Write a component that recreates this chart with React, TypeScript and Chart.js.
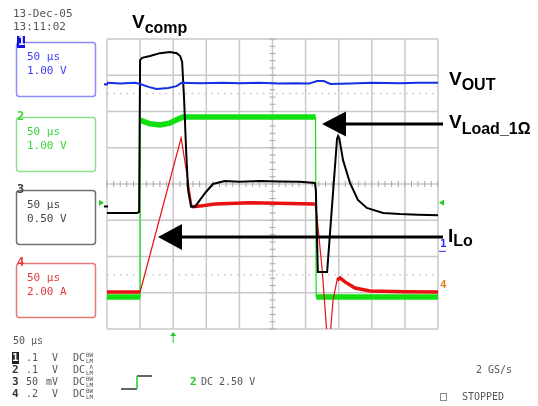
import React, { useEffect, useRef } from "react";
import { Chart, registerables } from "chart.js";

Chart.register(...registerables);

// Screen: 10 horizontal divisions (50 µs/div), 8 vertical divisions (centre = 0)
const timeDivs = [0, 1, 2, 3, 4, 5, 6, 7, 8, 9, 10];
const levelDivs = [-4, -3, -2, -1, 0, 1, 2, 3, 4];
const cursorLevels = [-2.5, 2.5];

// Channel 1 – V_OUT (blue)
const voutT = [0, 0.4, 0.85, 1.0, 1.25, 1.5, 1.85, 2.1, 2.25, 2.8, 3.5, 4.0, 4.6, 5.2, 5.7, 6.1, 6.35, 6.55, 6.75, 7.35, 8.0, 8.85, 9.4, 10];
const voutV = [2.79, 2.77, 2.79, 2.76, 2.68, 2.62, 2.65, 2.7, 2.79, 2.78, 2.79, 2.78, 2.79, 2.77, 2.78, 2.77, 2.84, 2.84, 2.76, 2.77, 2.79, 2.78, 2.79, 2.79];

// Channel 2 – V_Load_1Ω (green)
const vloadT = [0, 0.97, 1.0, 1.0, 1.06, 1.3, 1.6, 1.9, 2.15, 2.3, 3.0, 4.3, 5.5, 6.3, 6.32, 7.0, 8.5, 10];
const vloadV = [-3.12, -3.12, -3.12, 1.77, 1.74, 1.66, 1.63, 1.68, 1.79, 1.85, 1.85, 1.85, 1.85, 1.85, -3.12, -3.12, -3.12, -3.12];

// Channel 3 – V_comp (black)
const vcompT = [0, 0.91, 0.97, 1.0, 1.06, 1.3, 1.6, 1.9, 2.11, 2.21, 2.27, 2.33, 2.39, 2.45, 2.54, 2.66, 2.81, 2.99, 3.2, 3.56, 4.0, 4.62, 5.2, 5.83, 6.28, 6.31, 6.37, 6.65, 6.95, 6.98, 7.02, 7.13, 7.34, 7.58, 7.85, 8.34, 8.85, 9.4, 10];
const vcompV = [-0.8, -0.8, -0.77, 3.42, 3.48, 3.53, 3.61, 3.64, 3.61, 3.53, 3.37, 2.32, 0.94, -0.17, -0.63, -0.63, -0.44, -0.22, 0.0, 0.08, 0.06, 0.08, 0.07, 0.06, 0.03, -0.17, -2.43, -2.43, 1.25, 1.32, 1.25, 0.66, 0.03, -0.44, -0.66, -0.8, -0.83, -0.85, -0.86];

// Channel 4 – I_Lo (red)
const iloT = [0, 0.97, 1.0, 2.24, 2.39, 2.57, 2.81, 3.26, 4.32, 5.5, 6.28, 6.34, 6.5, 6.65, 6.74, 6.83, 6.95, 7.04, 7.19, 7.49, 7.95, 9.0, 10];
const iloV = [-2.98, -2.98, -2.98, 1.27, 0.41, -0.63, -0.61, -0.55, -0.52, -0.54, -0.55, -0.86, -2.37, -4.2, -4.2, -3.2, -2.65, -2.59, -2.7, -2.87, -2.95, -2.97, -2.98];

// Channel boxes
const chanNames = ["1", "2", "3", "4"];
const chanTime = ["50 µs", "50 µs", "50 µs", "50 µs"];
const chanScale = ["1.00 V", "1.00 V", "0.50 V", "2.00 A"];
const chanBorder = ["#8c8cff", "#8ce08c", "#707070", "#e67a7a"];
const chanText = ["#3c3cff", "#3cd23c", "#444444", "#e23c3c"];
const chanBoxTop = [42, 117, 190, 263];

// Bottom status lines
const statusRows = [
  ["1", ".1", "V", "DC"],
  ["2", ".1", "V", "DC"],
  ["3", "50", "mV", "DC"],
  ["4", ".2", "V", "DC"],
];

const pts = (xs: number[], ys: number[]) => xs.map((x, i) => ({ x, y: ys[i] }));

const steepWidth = (thin: number, thick: number) => (c: any) => {
  const dx = Math.abs(c.p1.x - c.p0.x);
  const dy = Math.abs(c.p1.y - c.p0.y);
  return dy > 2 * dx ? thin : thick;
};

function subLabel(ctx: CanvasRenderingContext2D, main: string, sub: string, x: number, y: number, mainSize: number, subSize: number, shift: number) {
  ctx.fillStyle = "#000";
  ctx.textBaseline = "alphabetic";
  ctx.textAlign = "left";
  ctx.font = `bold ${mainSize}px "Liberation Sans", Arial, sans-serif`;
  ctx.fillText(main, x, y);
  const w = ctx.measureText(main).width;
  ctx.font = `bold ${subSize}px "Liberation Sans", Arial, sans-serif`;
  ctx.fillText(sub, x + w, y + shift);
}

function arrowLeft(ctx: CanvasRenderingContext2D, tipX: number, y: number, endX: number, headLen: number, headHalf: number) {
  ctx.fillStyle = "#000";
  ctx.fillRect(tipX + headLen - 2, y - 1.5, endX - tipX - headLen + 2, 3);
  ctx.beginPath();
  ctx.moveTo(tipX, y);
  ctx.lineTo(tipX + headLen, y - headHalf);
  ctx.lineTo(tipX + headLen, y + headHalf);
  ctx.closePath();
  ctx.fill();
}

const scopePlugin = {
  id: "scope",
  beforeDatasetsDraw(chart: any) {
    const { ctx, chartArea: a, scales } = chart;
    const xs = scales.x, ys = scales.y;
    ctx.save();
    ctx.fillStyle = "#fff";
    ctx.strokeStyle = "#c8c8c8";
    ctx.lineWidth = 1.5;
    for (const t of timeDivs) {
      const px = xs.getPixelForValue(t);
      ctx.beginPath();
      ctx.moveTo(px, a.top);
      ctx.lineTo(px, a.bottom);
      ctx.stroke();
    }
    for (const l of levelDivs) {
      const py = ys.getPixelForValue(l);
      ctx.beginPath();
      ctx.moveTo(a.left, py);
      ctx.lineTo(a.right, py);
      ctx.stroke();
    }
    // centre minor ticks
    ctx.lineWidth = 1;
    ctx.strokeStyle = "#a8a8a8";
    const cx = xs.getPixelForValue(5), cy = ys.getPixelForValue(0);
    for (let i = -20; i <= 20; i++) {
      const py = ys.getPixelForValue(i * 0.2);
      ctx.beginPath();
      ctx.moveTo(cx - 3, py);
      ctx.lineTo(cx + 3, py);
      ctx.stroke();
    }
    for (let i = 0; i <= 50; i++) {
      const px = xs.getPixelForValue(i * 0.2);
      ctx.beginPath();
      ctx.moveTo(px, cy - 3);
      ctx.lineTo(px, cy + 3);
      ctx.stroke();
    }
    // dotted cursor lines
    ctx.strokeStyle = "#c4c4c4";
    ctx.setLineDash([1.5, 5]);
    ctx.lineWidth = 1.5;
    for (const l of cursorLevels) {
      const py = ys.getPixelForValue(l);
      ctx.beginPath();
      ctx.moveTo(a.left, py);
      ctx.lineTo(a.right, py);
      ctx.stroke();
    }
    ctx.restore();
  },
  afterDraw(chart: any) {
    const { ctx, chartArea: a, scales } = chart;
    const ys = scales.y, xs = scales.x;
    ctx.save();
    const mono = '"DejaVu Sans Mono", monospace';

    // date / time
    ctx.fillStyle = "#555";
    ctx.font = `11px ${mono}`;
    ctx.textBaseline = "middle";
    ctx.textAlign = "left";
    ctx.fillText("13-Dec-05", 13, 14);
    ctx.fillText("13:11:02", 13, 27);

    // channel boxes
    for (let i = 0; i < 4; i++) {
      const top = chanBoxTop[i];
      ctx.strokeStyle = chanBorder[i];
      ctx.lineWidth = 1.5;
      ctx.beginPath();
      (ctx as any).roundRect(16.5, top + 0.5, 79, 54, 3);
      ctx.stroke();
      ctx.fillStyle = chanText[i];
      ctx.font = `11px ${mono}`;
      ctx.fillText(chanTime[i], 27, top + 15);
      ctx.fillText(chanScale[i], 27, top + 29);
      ctx.font = `bold 12px ${mono}`;
      if (i === 0) {
        ctx.fillStyle = "#1010e0";
        ctx.fillRect(17, top - 6, 8, 12);
        ctx.fillStyle = "#fff";
        ctx.fillText(chanNames[i], 18, top);
      } else {
        ctx.fillStyle = chanText[i];
        ctx.fillText(chanNames[i], 17, top);
      }
    }

    // left-edge channel markers
    ctx.fillStyle = "#1a1aff";
    ctx.fillRect(a.left - 3, ys.getPixelForValue(2.75) - 1, 4, 2);
    ctx.fillStyle = "#22cc22";
    ctx.beginPath();
    const gy = ys.getPixelForValue(-0.52);
    ctx.moveTo(a.left - 8, gy - 3);
    ctx.lineTo(a.left - 3, gy);
    ctx.lineTo(a.left - 8, gy + 3);
    ctx.fill();
    ctx.beginPath();
    ctx.moveTo(a.right + 6, gy - 3);
    ctx.lineTo(a.right + 1, gy);
    ctx.lineTo(a.right + 6, gy + 3);
    ctx.fill();
    ctx.fillStyle = "#000";
    ctx.fillRect(a.left - 3, ys.getPixelForValue(-0.62) - 1, 4, 2);

    // right-edge markers
    ctx.font = `bold 11px ${mono}`;
    ctx.fillStyle = "#2a2aff";
    ctx.fillText("1", a.right + 2, ys.getPixelForValue(-1.65));
    ctx.fillRect(a.right + 1, ys.getPixelForValue(-1.65) + 7, 7, 1);
    ctx.fillStyle = "#e0801a";
    ctx.fillText("4", a.right + 2, ys.getPixelForValue(-2.8));

    // trigger marker
    const tx = xs.getPixelForValue(2);
    ctx.strokeStyle = "#22cc22";
    ctx.fillStyle = "#22cc22";
    ctx.lineWidth = 1;
    ctx.beginPath();
    ctx.moveTo(tx, a.bottom + 4);
    ctx.lineTo(tx, a.bottom + 14);
    ctx.stroke();
    ctx.beginPath();
    ctx.moveTo(tx - 3, a.bottom + 7);
    ctx.lineTo(tx, a.bottom + 3);
    ctx.lineTo(tx + 3, a.bottom + 7);
    ctx.fill();

    // bottom status text
    ctx.fillStyle = "#555";
    ctx.font = `10px ${mono}`;
    ctx.fillText("50 µs", 13, 341);
    const rowY = [358, 370, 382, 394];
    statusRows.forEach((r, i) => {
      const y = rowY[i];
      ctx.font = `bold 11px ${mono}`;
      if (i === 0) {
        ctx.fillStyle = "#222";
        ctx.fillRect(12, y - 6, 7, 12);
        ctx.fillStyle = "#fff";
        ctx.fillText(r[0], 12, y);
      } else {
        ctx.fillStyle = "#333";
        ctx.fillText(r[0], 12, y);
      }
      ctx.fillStyle = "#555";
      ctx.font = `10px ${mono}`;
      ctx.fillText(r[1], 26, y);
      ctx.fillText(r[2], r[2].length > 1 ? 46 : 52, y);
      ctx.fillText(r[3], 73, y);
      ctx.font = `6px ${mono}`;
      ctx.fillText(i === 1 ? " A" : "BW", 86, y - 3);
      ctx.fillText("LM", 86, y + 3);
    });

    // step symbol
    ctx.lineWidth = 1.5;
    ctx.strokeStyle = "#333";
    ctx.beginPath();
    ctx.moveTo(121, 389);
    ctx.lineTo(137, 389);
    ctx.moveTo(137, 376);
    ctx.lineTo(152, 376);
    ctx.stroke();
    ctx.strokeStyle = "#22cc22";
    ctx.beginPath();
    ctx.moveTo(137, 389);
    ctx.lineTo(137, 376);
    ctx.stroke();
    ctx.font = `bold 11px ${mono}`;
    ctx.fillStyle = "#22cc22";
    ctx.fillText("2", 190, 382);
    ctx.font = `10px ${mono}`;
    ctx.fillStyle = "#555";
    ctx.fillText("DC 2.50 V", 201, 382);
    ctx.fillText("2 GS/s", 476, 370);
    ctx.fillText("STOPPED", 462, 397);
    ctx.strokeStyle = "#888";
    ctx.lineWidth = 1;
    ctx.strokeRect(440.5, 393.5, 6, 7);

    // annotations
    subLabel(ctx, "V", "comp", 132, 28, 19, 16, 5);
    subLabel(ctx, "V", "OUT", 449, 85, 19, 16, 5);
    subLabel(ctx, "V", "Load_1Ω", 449, 128, 19, 16, 6);
    subLabel(ctx, "I", "Lo", 448, 242, 19, 16, 4);
    arrowLeft(ctx, 322, 124, 443, 24, 12.5);
    arrowLeft(ctx, 158, 237, 443, 24, 13);

    ctx.restore();
  },
};

export default function App() {
  const ref = useRef<HTMLCanvasElement | null>(null);
  useEffect(() => {
    if (!ref.current) return;
    const chart = new Chart(ref.current, {
      type: "line",
      data: {
        datasets: [
          {
            label: "V_OUT",
            data: pts(voutT, voutV),
            borderColor: "#1430e6",
            borderWidth: 2,
            pointRadius: 0,
            order: 1,
          },
          {
            label: "V_comp",
            data: pts(vcompT, vcompV),
            borderColor: "#000",
            borderWidth: 2,
            pointRadius: 0,
            order: 2,
          },
          {
            label: "I_Lo",
            data: pts(iloT, iloV),
            borderColor: "#e81010",
            borderWidth: 3,
            pointRadius: 0,
            order: 3,
            segment: { borderWidth: steepWidth(1.2, 3.5) },
          },
          {
            label: "V_Load_1Ω",
            data: pts(vloadT, vloadV),
            borderColor: "#10e010",
            borderWidth: 5,
            pointRadius: 0,
            order: 4,
            segment: { borderWidth: steepWidth(1.2, 5.5) },
          },
        ],
      },
      options: {
        animation: false,
        responsive: false,
        devicePixelRatio: 1,
        parsing: true,
        layout: { padding: { left: 107, top: 39, right: 100, bottom: 77 } },
        scales: {
          x: { type: "linear", min: 0, max: 10, display: false },
          y: { type: "linear", min: -4, max: 4, display: false },
        },
        plugins: { legend: { display: false }, tooltip: { enabled: false } },
        elements: { line: { tension: 0 } },
      },
      plugins: [scopePlugin],
    });
    return () => chart.destroy();
  }, []);
  return (
    <div style={{ position: "fixed", left: 0, top: 0, width: 538, height: 406, background: "#fff" }}>
      <canvas ref={ref} width={538} height={406} style={{ display: "block", width: 538, height: 406 }} />
    </div>
  );
}
